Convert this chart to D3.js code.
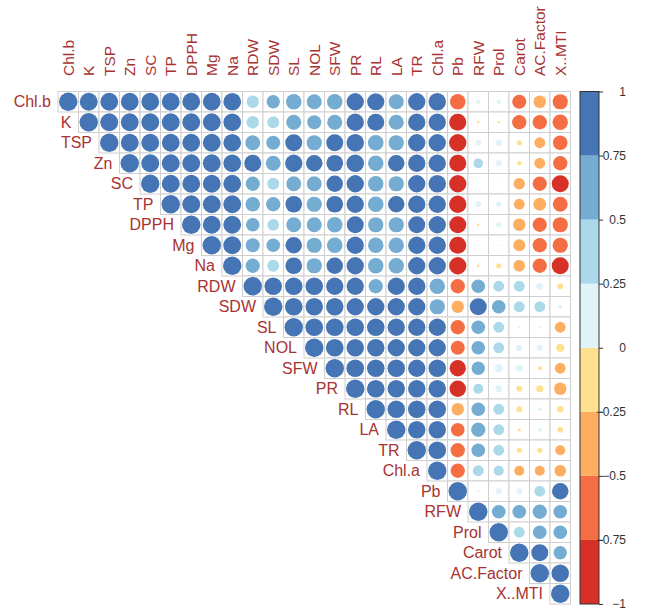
<!DOCTYPE html>
<html>
<head>
<meta charset="utf-8">
<script src="https://cdn.jsdelivr.net/npm/d3@7"></script>
<style>
  html, body { margin: 0; padding: 0; background: #fff; }
  svg { display: block; }
</style>
</head>
<body>
<svg id="chart" width="645" height="612"></svg>
<script>
// Variables (row/column order)
const variables = ["Chl.b","K","TSP","Zn","SC","TP","DPPH","Mg","Na","RDW","SDW","SL","NOL","SFW","PR","RL","LA","TR","Chl.a","Pb","RFW","Prol","Carot","AC.Factor","X..MTI"];

// Upper-triangle correlations, each row starts at its diagonal
const rowChlb  = [1,0.95,0.94,0.93,0.94,0.94,0.93,0.93,0.92,0.45,0.52,0.7,0.66,0.7,0.88,0.87,0.67,0.88,0.9,-0.7,0.06,0.06,-0.58,-0.47,-0.68];
const rowK     = [1,0.95,0.93,0.94,0.94,0.93,0.93,0.92,0.45,0.42,0.67,0.58,0.67,0.88,0.85,0.67,0.88,0.88,-0.85,-0.02,-0.02,-0.6,-0.6,-0.7];
const rowTSP   = [1,0.94,0.95,0.94,0.93,0.93,0.92,0.65,0.58,0.85,0.68,0.85,0.9,0.72,0.68,0.88,0.88,-0.88,0.1,0.12,-0.08,-0.35,-0.62];
const rowZn    = [1,0.94,0.94,0.93,0.93,0.92,0.85,0.65,0.88,0.8,0.82,0.9,0.7,0.8,0.88,0.88,-0.85,0.27,0.1,-0.06,-0.35,-0.6];
const rowSC    = [1,0.95,0.94,0.94,0.93,0.6,0.42,0.65,0.65,0.8,0.88,0.7,0.68,0.88,0.9,-0.88,0.01,0.01,-0.38,-0.6,-0.85];
const rowTP    = [1,0.94,0.94,0.93,0.62,0.6,0.82,0.68,0.82,0.88,0.72,0.8,0.88,0.88,-0.88,0.1,0.08,-0.35,-0.48,-0.65];
const rowDPPH  = [1,0.94,0.93,0.55,0.4,0.65,0.65,0.7,0.85,0.68,0.68,0.85,0.88,-0.85,-0.02,0.08,-0.45,-0.6,-0.68];
const rowMg    = [1,0.94,0.58,0.55,0.8,0.68,0.72,0.88,0.7,0.7,0.88,0.88,-0.85,0.01,0.01,-0.42,-0.6,-0.68];
const rowNa    = [1,0.6,0.42,0.82,0.68,0.8,0.88,0.7,0.7,0.88,0.88,-0.88,-0.02,-0.08,-0.4,-0.6,-0.85];
const rowRDW   = [1,0.9,0.9,0.9,0.88,0.88,0.6,0.88,0.88,0.7,-0.6,0.55,0.35,0.35,0.15,-0.1];
const rowSDW   = [1,0.92,0.9,0.9,0.88,0.88,0.88,0.88,0.68,-0.45,0.85,0.55,0.35,0.35,0.05];
const rowSL    = [1,0.92,0.92,0.9,0.9,0.88,0.88,0.88,-0.6,0.55,0.35,0.02,0.02,-0.35];
const rowNOL   = [1,0.92,0.9,0.9,0.88,0.88,0.88,-0.58,0.55,0.35,0.12,0.1,-0.2];
const rowSFW   = [1,0.92,0.9,0.9,0.88,0.9,-0.78,0.52,0.2,0.15,-0.05,-0.35];
const rowPR    = [1,0.92,0.9,0.9,0.9,-0.8,0.3,0.15,-0.1,-0.15,-0.45];
const rowRL    = [1,0.9,0.9,0.9,-0.45,0.55,0.35,-0.1,0.05,-0.12];
const rowLA    = [1,0.9,0.9,-0.55,0.6,0.35,-0.03,0.05,-0.1];
const rowTR    = [1,0.92,-0.6,0.55,0.35,-0.08,-0.08,-0.3];
const rowChla  = [1,-0.6,0.35,0.3,-0.3,-0.3,-0.4];
const rowPb    = [1,0.02,0.1,0.1,0.35,0.8];
const rowRFW   = [1,0.55,0.55,0.6,0.55];
const rowProl  = [1,0.35,0.55,0.55];
const rowCarot = [1,0.85,0.52];
const rowAC    = [1,0.9];
const rowMTI   = [1];

const legendTicks = [1,0.75,0.5,0.25,0,-0.25,-0.5,-0.75,-1];
const binEdges = [-0.75,-0.5,-0.25,0,0.25,0.5,0.75];
const binColors = ["#D73027","#F46D43","#FDAE61","#FEE090","#E0F3F8","#ABD9E9","#74ADD1","#4575B4"];

const rows = [rowChlb,rowK,rowTSP,rowZn,rowSC,rowTP,rowDPPH,rowMg,rowNa,rowRDW,rowSDW,rowSL,rowNOL,rowSFW,rowPR,rowRL,rowLA,rowTR,rowChla,rowPb,rowRFW,rowProl,rowCarot,rowAC,rowMTI];

const cells = [];
rows.forEach((vals, i) => {
  vals.forEach((v, k) => {
    cells.push({row: variables[i], col: variables[i + k], value: v});
  });
});

const svg = d3.select("#chart");
const labelColor = "#A83232";
const font = "'Liberation Sans', Arial, sans-serif";

const x = d3.scaleBand().domain(variables).range([58, 570.5]);
const y = d3.scaleBand().domain(variables).range([91.5, 604]);
const r = d3.scaleSqrt().domain([0, 1]).range([0, 0.45 * x.bandwidth()]);
const color = d3.scaleThreshold().domain(binEdges).range(binColors);

const g = svg.append("g");

// grid cells
g.selectAll("rect.cell").data(cells).join("rect")
  .attr("class", "cell")
  .attr("x", d => x(d.col))
  .attr("y", d => y(d.row))
  .attr("width", x.bandwidth())
  .attr("height", y.bandwidth())
  .attr("fill", "#fff")
  .attr("stroke", "#CFCFCF")
  .attr("stroke-width", 1);

// circles
g.selectAll("circle").data(cells).join("circle")
  .attr("cx", d => x(d.col) + x.bandwidth() / 2)
  .attr("cy", d => y(d.row) + y.bandwidth() / 2)
  .attr("r", d => r(Math.abs(d.value)))
  .attr("fill", d => color(d.value));

// column labels (top, rotated)
g.selectAll("text.col").data(variables).join("text")
  .attr("class", "col")
  .attr("transform", d => `translate(${x(d) + x.bandwidth() / 2},76) rotate(-90)`)
  .attr("dy", "0.35em")
  .attr("text-anchor", "start")
  .attr("fill", labelColor)
  .attr("font-family", font)
  .attr("font-size", 15.5)
  .text(d => d);

// row labels (left of diagonal)
g.selectAll("text.row").data(variables).join("text")
  .attr("class", "row")
  .attr("x", d => x(d) - 7)
  .attr("y", d => y(d) + y.bandwidth() / 2)
  .attr("dy", "0.35em")
  .attr("text-anchor", "end")
  .attr("fill", labelColor)
  .attr("font-family", font)
  .attr("font-size", 16)
  .text(d => d);

// colour legend
const ly = d3.scaleLinear().domain([-1, 1]).range([604, 91.5]);
const lx0 = 580, lw = 19;
const bins = binColors.map((c, i) => ({
  lo: i === 0 ? -1 : binEdges[i - 1],
  hi: i === binColors.length - 1 ? 1 : binEdges[i],
  c
}));
const leg = svg.append("g");
leg.selectAll("rect").data(bins).join("rect")
  .attr("x", lx0)
  .attr("y", d => ly(d.hi))
  .attr("width", lw)
  .attr("height", d => ly(d.lo) - ly(d.hi))
  .attr("fill", d => d.c);
leg.append("rect")
  .attr("x", lx0).attr("y", ly(1))
  .attr("width", lw).attr("height", ly(-1) - ly(1))
  .attr("fill", "none").attr("stroke", "#333").attr("stroke-width", 1);

const axis = d3.axisRight(ly).tickValues(legendTicks).tickSize(4).tickFormat(d3.format("~g"));
const ag = leg.append("g").attr("transform", `translate(${lx0 + lw},0)`).call(axis);
ag.select(".domain").remove();
ag.selectAll(".tick line").attr("stroke", "#333");
ag.selectAll(".tick text")
  .attr("x", 27)
  .attr("text-anchor", "end")
  .attr("fill", "#333")
  .attr("font-family", font)
  .attr("font-size", 12);
</script>
</body>
</html>
